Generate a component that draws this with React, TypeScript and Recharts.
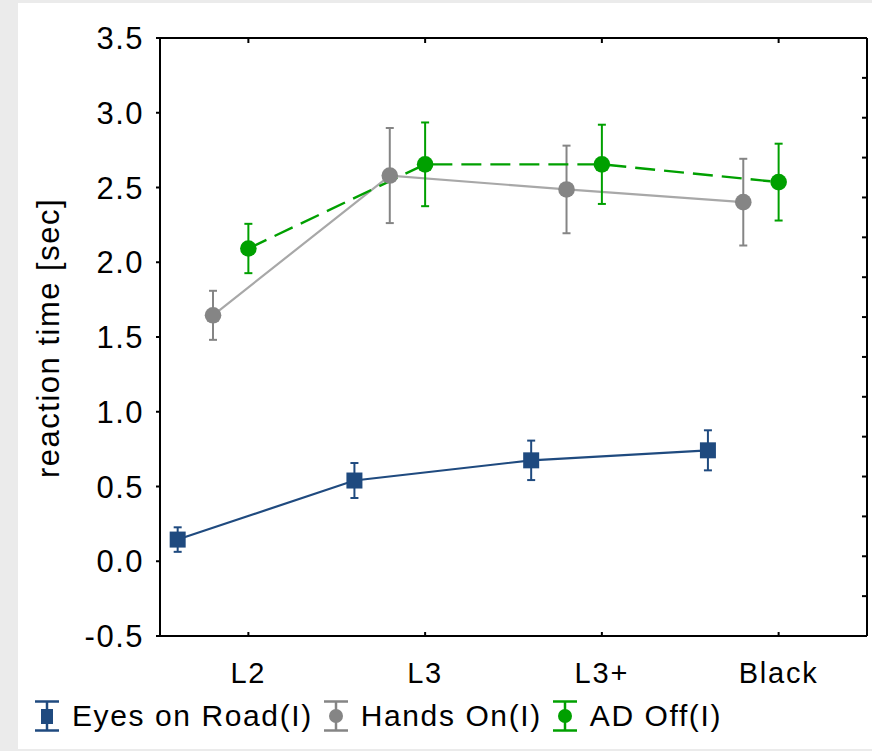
import React from 'react';
import { ComposedChart, Line, XAxis, YAxis, ErrorBar } from 'recharts';

const categories = ['L2', 'L3', 'L3+', 'Black'];
const seriesNames = ['Eyes on Road(I)', 'Hands On(I)', 'AD Off(I)'];
const eyesMean = [0.145, 0.54, 0.675, 0.742];
const eyesErr = [0.082, 0.117, 0.132, 0.134];
const handsMean = [1.645, 2.58, 2.487, 2.402];
const handsErr = [0.164, 0.318, 0.293, 0.29];
const adMean = [2.092, 2.655, 2.655, 2.536];
const adErr = [0.165, 0.28, 0.265, 0.257];
const yTicks = [-0.5, 0, 0.5, 1, 1.5, 2, 2.5, 3, 3.5];
const rightTicks = Array.from({ length: 16 }, (_, i) => i);
const catTicks = categories.map((_, i) => i + 0.5);
// dodge offsets (category units) per series
const dodge = [-0.4, -0.2, 0];

const FONT = '"Liberation Sans", Arial, sans-serif';
const BLUE = '#1f4a7f';
const GRAY = '#858585';
const GRAY_LINE = '#a8a8a8';
const GREEN = '#00a000';

const build = (means: number[], errs: number[], off: number) =>
  means.map((m, i) => ({ x: i + 0.5 + off, mean: m, err: errs[i] }));

const eyesData = build(eyesMean, eyesErr, dodge[0]);
const handsData = build(handsMean, handsErr, dodge[1]);
const adData = build(adMean, adErr, dodge[2]);

const Square = (color: string) => (p: any) => (
  <rect key={`sq-${p.index}`} x={p.cx - 8} y={p.cy - 8} width={16} height={16} fill={color} />
);
const Circle = (color: string) => (p: any) => (
  <circle key={`ci-${p.index}`} cx={p.cx} cy={p.cy} r={8.3} fill={color} />
);

const XTick = (p: any) => (
  <text x={p.x} y={p.y} dy="0.71em" textAnchor="middle" fontSize={29} fontFamily={FONT} fill="#000" style={{ letterSpacing: 1.8 }}>
    {categories[Math.round(p.payload.value - 0.5)]}
  </text>
);
const YTick = (p: any) => (
  <text x={p.x} y={p.y} dy="0.355em" textAnchor="end" fontSize={31} fontFamily={FONT} fill="#000" style={{ letterSpacing: 1.5 }}>
    {Number(p.payload.value).toFixed(1)}
  </text>
);
const Empty = () => <g />;

const LegendIcon = ({ color, square }: { color: string; square: boolean }) => (
  <svg width={26} height={32} style={{ display: 'block' }}>
    <line x1={13} y1={1.5} x2={13} y2={30.5} stroke={color} strokeWidth={2.5} />
    <line x1={1} y1={1.5} x2={25} y2={1.5} stroke={color} strokeWidth={2.5} />
    <line x1={1} y1={30.5} x2={25} y2={30.5} stroke={color} strokeWidth={2.5} />
    {square ? <rect x={7} y={9} width={12} height={15} fill={color} /> : <circle cx={13} cy={16} r={7} fill={color} />}
  </svg>
);

export default function App() {
  const legendColors = [BLUE, GRAY, GREEN];
  return (
    <div style={{ position: 'fixed', left: 0, top: 0, width: 872, height: 751, background: '#ebebeb', overflow: 'hidden' }}>
      <div style={{ position: 'absolute', left: 18, top: 3, width: 854, height: 746, background: '#fff' }} />
      <div style={{ position: 'absolute', left: 0, top: 0 }}>
        <ComposedChart width={872} height={751} margin={{ top: 38, right: 5, bottom: 65, left: 100 }}>
          <XAxis xAxisId="b" dataKey="x" type="number" domain={[0, 4]} ticks={catTicks} allowDataOverflow
            orientation="bottom" height={50} tickLine={false} tickSize={6} tickMargin={20}
            axisLine={{ stroke: '#000', strokeWidth: 2 }} tick={XTick} />
          <XAxis xAxisId="bm" dataKey="x" type="number" domain={[0, 4]} ticks={catTicks} allowDataOverflow
            orientation="bottom" mirror axisLine={false} tickSize={4} tickLine={{ stroke: '#000', strokeWidth: 2 }} tick={Empty} />
          <XAxis xAxisId="t" dataKey="x" type="number" domain={[0, 4]} ticks={catTicks} allowDataOverflow
            orientation="top" mirror axisLine={{ stroke: '#000', strokeWidth: 2 }} tickSize={5} tickLine={{ stroke: '#000', strokeWidth: 2 }} tick={Empty} />
          <YAxis yAxisId="l" type="number" domain={[-0.5, 3.5]} ticks={yTicks} allowDataOverflow width={60}
            axisLine={{ stroke: '#000', strokeWidth: 2 }} tickSize={4} tickMargin={12} tickLine={{ stroke: '#000', strokeWidth: 2 }} tick={YTick}
            label={{
              content: () => (
                <text x={59} y={338} transform="rotate(-90 59 338)" textAnchor="middle" fontSize={31} fontFamily={FONT} fill="#000" style={{ letterSpacing: 1.5 }}>
                  reaction time [sec]
                </text>
              ),
            }} />
          <YAxis yAxisId="r" orientation="right" mirror type="number" domain={[0, 15]} ticks={rightTicks} allowDataOverflow
            axisLine={{ stroke: '#000', strokeWidth: 2 }} tickSize={5} tickLine={{ stroke: '#000', strokeWidth: 2 }} tick={Empty} />

          <Line xAxisId="b" yAxisId="l" data={eyesData} dataKey="mean" stroke={BLUE} strokeWidth={2.2}
            dot={Square(BLUE)} activeDot={false} isAnimationActive={false}>
            <ErrorBar dataKey="err" width={4} stroke={BLUE} strokeWidth={2} isAnimationActive={false} />
          </Line>
          <Line xAxisId="b" yAxisId="l" data={handsData} dataKey="mean" stroke={GRAY_LINE} strokeWidth={2.2}
            dot={Circle(GRAY)} activeDot={false} isAnimationActive={false}>
            <ErrorBar dataKey="err" width={4} stroke={GRAY} strokeWidth={2} isAnimationActive={false} />
          </Line>
          <Line xAxisId="b" yAxisId="l" data={adData} dataKey="mean" stroke={GREEN} strokeWidth={2.4} strokeDasharray="20 9"
            dot={Circle(GREEN)} activeDot={false} isAnimationActive={false}>
            <ErrorBar dataKey="err" width={4} stroke={GREEN} strokeWidth={2} isAnimationActive={false} />
          </Line>
        </ComposedChart>
      </div>
      <div style={{ position: 'absolute', left: 34, top: 700, height: 32, display: 'flex', alignItems: 'center', fontFamily: FONT, fontSize: 30, letterSpacing: 1.6, color: '#000', whiteSpace: 'nowrap' }}>
        {seriesNames.map((n, i) => (
          <React.Fragment key={n}>
            <LegendIcon color={legendColors[i]} square={i === 0} />
            <span style={{ marginLeft: 12, marginRight: 10, lineHeight: '32px' }}>{n}</span>
          </React.Fragment>
        ))}
      </div>
    </div>
  );
}
